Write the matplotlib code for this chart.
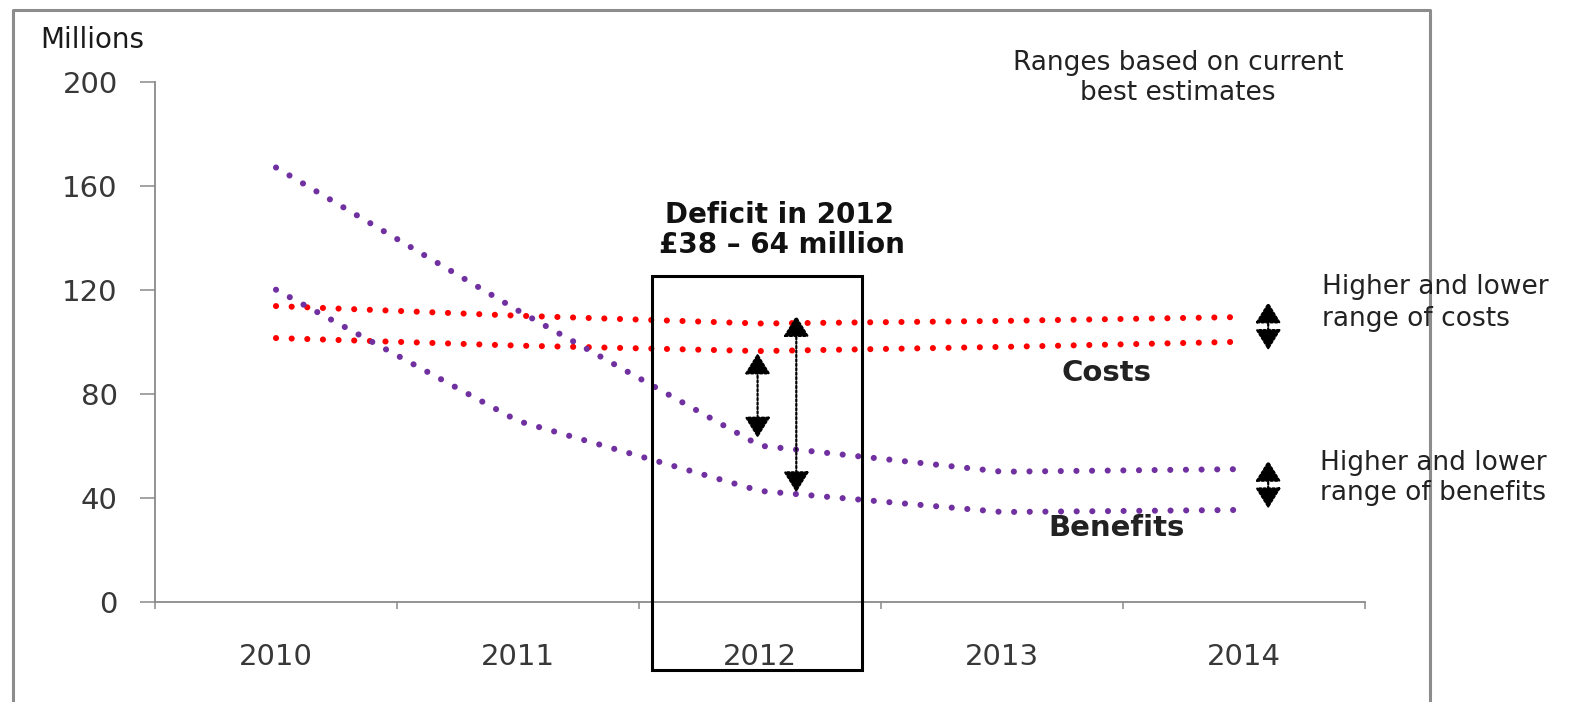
import numpy as np
import matplotlib.pyplot as plt
from matplotlib.patches import Rectangle
from matplotlib.lines import Line2D

# data
years = ['2010', '2011', '2012', '2013', '2014']
benefits_high = [167, 112, 60, 50, 51]
benefits_low = [120, 69.5, 42.6, 34.5, 35.3]
costs_high = [113.7, 110, 107, 108, 109.5]
costs_low = [101.4, 98.5, 96.4, 98, 100]

# deficit arrows in 2012 (x, low tip, high tip)
deficit_x = [1.99, 2.15]
deficit_low = [63, 42]
deficit_high = [95.6, 110]

# range arrows at the right
range_x = 4.10
costs_range = (96.7, 115.2)
benefits_range = (35.8, 54.3)

W, H = 1590, 702
fig = plt.figure(figsize=(W / 100, H / 100), dpi=100)
ax = fig.add_axes([155 / W, 100.3 / H, 1210 / W, 520 / H])

x = np.arange(len(years))
purple = '#7030A0'
red = '#FF0000'
dots = (0, (0.01, 2.55))

for vals, col in [(costs_high, red), (costs_low, red),
                  (benefits_high, purple), (benefits_low, purple)]:
    ax.plot(x, vals, color=col, lw=4.4, linestyle=dots,
            dash_capstyle='round')

ax.set_xlim(-0.5, 4.5)
ax.set_ylim(0, 200)
ax.set_yticks([0, 40, 80, 120, 160, 200])
ax.set_xticks(x)
ax.set_xticklabels(years)
ax.set_xticks(np.arange(-0.5, 5, 1), minor=True)

axis_col = '#8a8a8a'
for s in ['top', 'right']:
    ax.spines[s].set_visible(False)
for s in ['left', 'bottom']:
    ax.spines[s].set_color(axis_col)
    ax.spines[s].set_linewidth(1.3)

ax.tick_params(axis='y', length=10.8, width=1.1, color=axis_col, pad=16,
               labelsize=21, labelcolor='#383838')
ax.tick_params(axis='x', which='major', length=0, pad=30,
               labelsize=21, labelcolor='#383838')
ax.tick_params(axis='x', which='minor', length=5, width=1.1, color=axis_col)

# deficit box
ax.add_patch(Rectangle((1.554, -26.3), 2.421 - 1.554, 125.3 + 26.3,
                       fill=False, ec='black', lw=2.2, clip_on=False, zorder=5))


def double_arrow(xp, lo, hi, lw=1.6):
    ax.annotate('', xy=(xp, hi), xytext=(xp, lo),
                arrowprops=dict(arrowstyle='<|-|>,head_length=1.3,head_width=0.8',
                                linestyle=(0, (1, 1)), lw=lw, color='black',
                                shrinkA=0, shrinkB=0),
                annotation_clip=False)


for xp, lo, hi in zip(deficit_x, deficit_low, deficit_high):
    double_arrow(xp, lo, hi)
double_arrow(range_x, *costs_range)
double_arrow(range_x, *benefits_range)

ax.text(2.08, 148.7, 'Deficit in 2012', ha='center', va='center',
        fontsize=20, fontweight='bold', color='#111111')
ax.text(2.09, 137.2, '£38 – 64 million', ha='center', va='center',
        fontsize=20, fontweight='bold', color='#111111')
ax.text(3.43, 87.8, 'Costs', ha='center', va='center',
        fontsize=21, fontweight='bold', color='#222222')
ax.text(3.475, 28.3, 'Benefits', ha='center', va='center',
        fontsize=21, fontweight='bold', color='#222222')

fig.text(40 / W, 1 - 40 / H, 'Millions', ha='left', va='center',
         fontsize=20, color='#1a1a1a')
fig.text(1178 / W, 1 - 78 / H, 'Ranges based on current\nbest estimates',
         ha='center', va='center', fontsize=19, color='#222222',
         linespacing=1.2)
fig.text(1322 / W, 1 - 303 / H, 'Higher and lower\nrange of costs',
         ha='left', va='center', fontsize=19, color='#222222', linespacing=1.25)
fig.text(1320 / W, 1 - 478 / H, 'Higher and lower\nrange of benefits',
         ha='left', va='center', fontsize=19, color='#222222', linespacing=1.25)

# outer frame (bottom edge is cut off)
frame_col = '#8c8c8c'
fx = [13 / W, 13 / W, 1430 / W, 1430 / W]
fy = [0, 1 - 10 / H, 1 - 10 / H, 0]
fig.add_artist(Line2D(fx, fy, color=frame_col, lw=2.2, transform=fig.transFigure))

fig.savefig('out.png', dpi=100)
